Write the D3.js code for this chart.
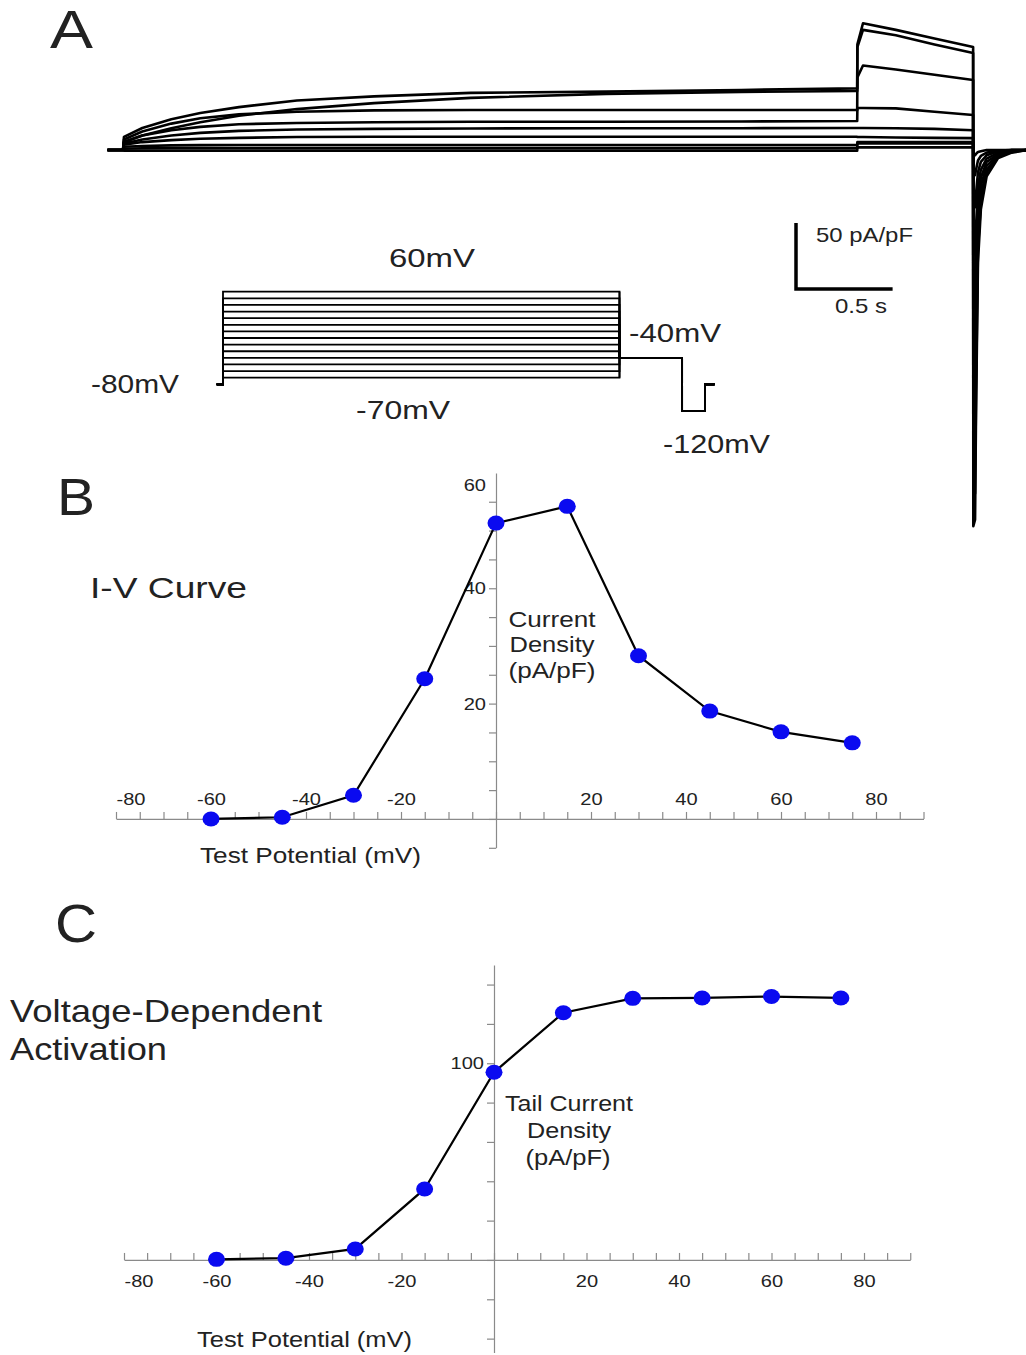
<!DOCTYPE html>
<html>
<head>
<meta charset="utf-8">
<script src="https://cdn.jsdelivr.net/npm/d3@7/dist/d3.min.js"></script>
<style>
  html, body { margin: 0; padding: 0; background: #fff; }
  svg { display: block; }
  text { font-family: "Liberation Sans", Arial, Helvetica, sans-serif; fill: #222; }
</style>
</head>
<body>
<svg id="fig" width="1026" height="1355"></svg>
<script>
// ---------------- DATA ----------------
// Panel A: current traces (time in s from start of test step, current in pA/pF)
const holdTimes = [-0.08, -0.001];
const stepTimes = [0, 0.005, 0.1, 0.25, 0.4, 0.6, 0.9, 1.3, 1.8, 2.5, 3.2, 3.8];
const stepCurrents = [
  [0, 10, 16.7, 23.3, 28, 32.5, 37.5, 40.6, 43.3, 44.2, 45.5, 46.7],
  [0, 6, 11, 16.5, 21, 26, 31, 35.5, 39.5, 42.5, 44, 44.7],
  [0, 8, 14, 20, 24, 27, 29, 30, 30.3, 30.3, 30.3, 30.3],
  [0, 6, 11, 15, 17.5, 19.5, 20.5, 21, 21.4, 21.4, 21.6, 22],
  [0, 5, 8, 11, 13, 14.5, 15.5, 16, 16.3, 16.5, 16.5, 16.7],
  [0, 4, 6, 7.5, 8.5, 9.2, 9.8, 10, 10, 10, 10, 10],
  [0, 2.5, 3, 3.5, 3.7, 3.8, 3.8, 3.8, 3.8, 3.8, 3.8, 3.8],
  [0, 1, 1.3, 1.5, 1.5, 1.5, 1.5, 1.5, 1.5, 1.5, 1.5, 1.5],
  [0, -0.5, -0.5, -0.5, -0.5, -0.5, -0.5, -0.5, -0.5, -0.5, -0.5, -0.5]
];
const tailTimes = [3.801, 3.83, 4.0, 4.2, 4.4];
const tailCurrents = [
  [80, 96, 91, 84.5, 78],
  [78, 91, 87, 80, 73.5],
  [55, 64, 61, 57, 53],
  [31.8, 31.8, 31.5, 29, 26.5],
  [16.7, 16.7, 16.5, 16, 15],
  [9.8, 9.8, 9.5, 9.2, 9],
  [6, 6, 6, 6, 6],
  [5, 5, 5, 5, 5],
  [2, 2, 2, 2, 2]
];
const negTimes = [4.401, 4.41, 4.415, 4.425, 4.44, 4.47, 4.53, 4.6, 4.68];
const negCurrents = [
  [-285, -280, -200, -85, -45, -20, -6, -2, 0],
  [-265, -260, -185, -75, -40, -17, -5, -1.5, 0],
  [-230, -225, -160, -65, -34, -15, -4.5, -1, 0],
  [-170, -165, -120, -52, -27, -12, -3.5, -1, 0],
  [-120, -115, -85, -40, -21, -9, -3, -0.5, 0],
  [-80, -77, -58, -28, -15, -6.5, -2, 0, 0],
  [-45, -43, -33, -17, -9, -4, -1, 0, 0],
  [-20, -19, -15, -8, -4.5, -2, -0.5, 0, 0],
  [-4, -4, -3, -1.5, -1, 0, 0, 0, 0]
];

// Panel A: voltage protocol (mV)
const testLevels = [-70, -60, -50, -40, -30, -20, -10, 0, 10, 20, 30, 40, 50, 60];
const holdingPotential = -80;
const tailPotential = -40;
const hyperPotential = -120;
const protoTimes = [-0.06, 0, 3.8, 4.4, 4.62, 4.71];

// Panel B: I-V curve
const testPotentials = [-60, -45, -30, -15, 0, 15, 30, 45, 60, 75];
const currentDensity = [0, 0.3, 4.1, 24.3, 51.3, 54.2, 28.3, 18.7, 15.1, 13.2];
const ivYTicks = [-5, 0, 5, 10, 15, 20, 25, 30, 35, 40, 45, 50, 55, 60];
const ivYLabels = [20, 40, 60];

// Panel C: voltage-dependent activation
const tailDensity = [0.3, 0.9, 5.6, 36.1, 95.4, 125.7, 133.0, 133.2, 133.9, 133.2];
const actYTicks = [-40, -20, 0, 20, 40, 60, 80, 100, 120, 140];
const actYLabels = [100];

// shared x ticks
const xTicks = d3.range(-80, 91, 5);
const xLabels = [-80, -60, -40, -20, 20, 40, 60, 80];

// ---------------- DRAW ----------------
const svg = d3.select("#fig");
svg.append("rect").attr("width", 1026).attr("height", 1355).attr("fill", "#fff");

function label(x, y, str, size, len, anchor) {
  const t = svg.append("text").attr("x", x).attr("y", y)
    .attr("font-size", size).text(str);
  if (anchor === "middle") { t.attr("x", x - len / 2); }
  t.attr("textLength", len).attr("lengthAdjust", "spacingAndGlyphs");
  return t;
}

// ---- Panel A traces
const tA = d3.scaleLinear().domain([0, 3.8]).range([123, 857.2]);
const iA = d3.scaleLinear().domain([0, 50]).range([150, 84]);
const lineA = d3.line().x(d => tA(d[0])).y(d => iA(d[1]));

stepCurrents.forEach((sc, k) => {
  const pts = [];
  holdTimes.forEach(t => pts.push([t, 0]));
  stepTimes.forEach((t, j) => pts.push([t, sc[j]]));
  tailTimes.forEach((t, j) => pts.push([t, tailCurrents[k][j]]));
  negTimes.forEach((t, j) => pts.push([t, negCurrents[k][j]]));
  svg.append("path").datum(pts).attr("d", lineA)
    .attr("fill", "none").attr("stroke", "#000").attr("stroke-width", 2.6)
    .attr("stroke-linejoin", "round");
});

// scale bar (50 pA/pF, 0.5 s)
const sbX = 796, sbY = 289;
const sbW = tA(0.5) - tA(0), sbH = iA(0) - iA(50);
svg.append("path")
  .attr("d", `M${sbX},${sbY - sbH}V${sbY}H${sbX + sbW}`)
  .attr("fill", "none").attr("stroke", "#000").attr("stroke-width", 3.5);
label(816, 242, "50 pA/pF", 21, 97);
label(835, 313, "0.5 s", 21, 52);

// ---- Voltage protocol
const tP = d3.scaleLinear().domain([0, 3.8]).range([223, 619.5]);
const vP = d3.scaleLinear().domain([-70, 60]).range([377.7, 291.7]);
const lineP = d3.line().x(d => tP(d[0])).y(d => vP(d[1]));
testLevels.forEach(v => {
  const pts = [
    [protoTimes[0], holdingPotential], [protoTimes[1], holdingPotential],
    [protoTimes[1], v], [protoTimes[2], v],
    [protoTimes[2], tailPotential], [protoTimes[3], tailPotential],
    [protoTimes[3], hyperPotential], [protoTimes[4], hyperPotential],
    [protoTimes[4], holdingPotential], [protoTimes[5], holdingPotential]
  ];
  svg.append("path").datum(pts).attr("d", lineP)
    .attr("fill", "none").attr("stroke", "#000").attr("stroke-width", 1.8);
});
// right vertical edge of the step box
svg.append("line").attr("x1", tP(3.8)).attr("x2", tP(3.8))
  .attr("y1", vP(60)).attr("y2", vP(-70)).attr("stroke", "#000").attr("stroke-width", 1.8);

label(389, 267, "60mV", 26, 86);
label(629, 342, "-40mV", 26, 92);
label(91, 393, "-80mV", 26, 88);
label(356, 419, "-70mV", 26, 94);
label(663, 453, "-120mV", 26, 107);

// panel letters
label(50, 48, "A", 54, 43);
label(57, 515, "B", 52, 38);
label(55, 942, "C", 54, 42);

// ---- helper to draw an axis pair
function styleAxis(g) {
  g.selectAll("path.domain").attr("stroke", "#8a8a8a").attr("stroke-width", 1.2);
  g.selectAll(".tick line").attr("stroke", "#8a8a8a").attr("stroke-width", 1.2);
  g.selectAll(".tick text").attr("fill", "#222")
    .attr("font-family", "'Liberation Sans', Arial, sans-serif")
    .attr("font-size", 17)
    .each(function () {
      const w = this.getComputedTextLength();
      if (w > 0) d3.select(this).attr("textLength", w * 1.18).attr("lengthAdjust", "spacingAndGlyphs");
    });
}

function drawPanel(xS, yS, yTicks, yLabels, values, xLabelY) {
  const y0 = yS(0), x0 = xS(0);
  const gx = svg.append("g").attr("transform", `translate(0,${y0})`)
    .call(d3.axisTop(xS).tickValues(xTicks).tickSize(7).tickSizeOuter(0)
      .tickFormat(d => xLabels.includes(d) ? d : ""));
  styleAxis(gx);
  gx.selectAll(".tick text").attr("y", xLabelY).attr("dy", 0);
  // first label starts at its tick
  gx.selectAll(".tick text").filter(d => d === -80).attr("text-anchor", "start").attr("x", 0);

  const gy = svg.append("g").attr("transform", `translate(${x0},0)`)
    .call(d3.axisLeft(yS).tickValues(yTicks).tickSize(7).tickSizeOuter(0).tickPadding(3)
      .tickFormat(d => yLabels.includes(d) ? d : ""));
  styleAxis(gy);
  gy.selectAll(".tick text").attr("x", -10);

  const pts = testPotentials.map((v, i) => [v, values[i]]);
  svg.append("path").datum(pts)
    .attr("d", d3.line().x(d => xS(d[0])).y(d => yS(d[1])))
    .attr("fill", "none").attr("stroke", "#000").attr("stroke-width", 2.2);
  svg.selectAll(null).data(pts).enter().append("ellipse")
    .attr("cx", d => xS(d[0])).attr("cy", d => yS(d[1]))
    .attr("rx", 8.5).attr("ry", 7.5).attr("fill", "#0a0af0");
  return gy;
}

// ---- Panel B
const xB = d3.scaleLinear().domain([-80, 90]).range([116, 923.5]);
const yB = d3.scaleLinear().domain([-5, 60]).range([847.8, 472.9]);
const gyB = drawPanel(xB, yB, ivYTicks, ivYLabels, currentDensity, -14);
gyB.selectAll(".tick").filter(d => d === 60).select("line").remove();
gyB.selectAll(".tick text").filter(d => d === 60).attr("dy", "1.05em");

label(90, 598, "I-V Curve", 30, 157);
label(552, 627, "Current", 22, 87, "middle");
label(552, 652, "Density", 22, 85, "middle");
label(552, 678, "(pA/pF)", 22, 87, "middle");
label(200, 863, "Test Potential (mV)", 22, 221);

// ---- Panel C
const xC = d3.scaleLinear().domain([-80, 90]).range([124, 910.25]);
const yC = d3.scaleLinear().domain([-47, 150]).range([1352.4, 964.9]);
drawPanel(xC, yC, actYTicks, actYLabels, tailDensity, 27);

label(10, 1022, "Voltage-Dependent", 32, 312);
label(10, 1060, "Activation", 32, 157);
label(569, 1111, "Tail Current", 22, 128, "middle");
label(569, 1138, "Density", 22, 84, "middle");
label(568, 1165, "(pA/pF)", 22, 85, "middle");
label(197, 1347, "Test Potential (mV)", 22, 215);
</script>
</body>
</html>
